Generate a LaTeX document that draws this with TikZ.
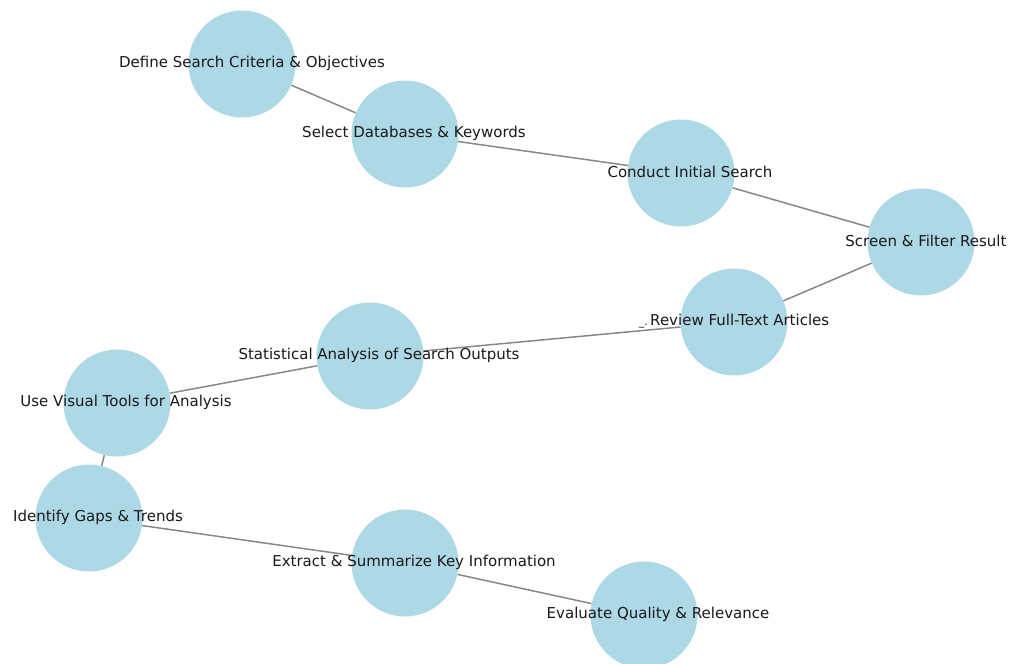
\documentclass[tikz,border=0pt]{standalone}
\usepackage{fontspec}
\setmainfont{DejaVu Sans}
\usepackage{tikz}
\usetikzlibrary{backgrounds}
\definecolor{stepblue}{RGB}{173,216,230}
\definecolor{linkgray}{RGB}{136,136,136}

\begin{document}
\begin{tikzpicture}[x=1pt, y=-1pt,
    stage/.style={circle, fill=stepblue, minimum size=107pt, inner sep=0pt},
    stagetext/.style={font=\fontsize{15}{17}\selectfont, inner sep=0pt, text=black!90},
    link/.style={draw=linkgray, line width=1.5pt}]
    \useasboundingbox (0,0) rectangle (1021,664);

    % stages
    \node[stage] (define) at (242,64) {};
    \node[stage] (select) at (405,134) {};
    \node[stage] (conduct) at (681,173) {};
    \node[stage] (screen) at (921,242) {};
    \node[stage] (review) at (734,322) {};
    \node[stage] (stats) at (370,356) {};
    \node[stage] (visual) at (117,403) {};
    \node[stage] (gaps) at (89,518) {};
    \node[stage] (extract) at (405,563) {};
    \node[stage] (evaluate) at (644,615) {};

    % links behind the stages
    \begin{scope}[on background layer]
        \draw[link] (define) -- (select);
        \draw[link] (select) -- (conduct);
        \draw[link] (conduct) -- (screen);
        \draw[link] (screen) -- (review);
        \draw[link] (review) -- (stats);
        \draw[link] (stats) -- (visual);
        \draw[link] (visual) -- (gaps);
        \draw[link] (gaps) -- (extract);
        \draw[link] (extract) -- (evaluate);
    \end{scope}

    % labels
    \node[stagetext] (define-lbl) at (252,63) {Define Search Criteria \& Objectives};
    \node[stagetext] (select-lbl) at (414,133) {Select Databases \& Keywords};
    \node[stagetext] (conduct-lbl) at (690,172) {Conduct Initial Search};
    \node[stagetext] (screen-lbl) at (926,241) {Screen \& Filter Result};
    \node[stagetext] (review-lbl) at (734,321) {{\fontsize{11}{12}\selectfont\_.}\,Review Full-Text Articles};
    \node[stagetext] (stats-lbl) at (379,355) {Statistical Analysis of Search Outputs};
    \node[stagetext] (visual-lbl) at (126,402) {Use Visual Tools for Analysis};
    \node[stagetext] (gaps-lbl) at (98,517) {Identify Gaps \& Trends};
    \node[stagetext] (extract-lbl) at (414,562) {Extract \& Summarize Key Information};
    \node[stagetext] (evaluate-lbl) at (658,614) {Evaluate Quality \& Relevance};
\end{tikzpicture}
\end{document}
